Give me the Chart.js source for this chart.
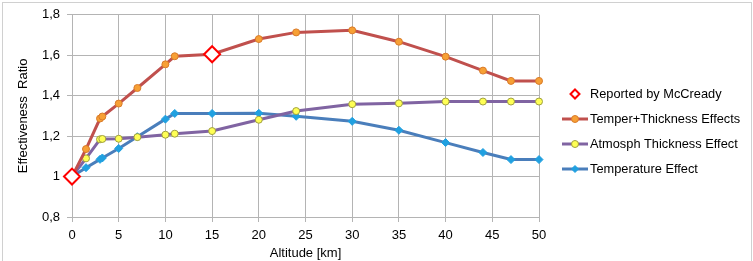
<!DOCTYPE html>
<html>
<head>
<meta charset="utf-8">
<script src="https://cdn.jsdelivr.net/npm/chart.js@4/dist/chart.umd.min.js"></script>
<style>
  html, body { margin: 0; padding: 0; background: #fff; }
  #wrap { width: 753px; height: 261px; position: relative; }
</style>
</head>
<body>
<div id="wrap"><canvas id="effChart"></canvas></div>
<script>
// data
const mcAlt = [0, 15];
const mcRatio = [1.0, 1.605];

const ttAlt = [0, 1.5, 3, 3.25, 5, 7, 10, 11, 15, 20, 24, 30, 35, 40, 44, 47, 50];
const ttRatio = [1.0, 1.136, 1.287, 1.297, 1.361, 1.438, 1.555, 1.595, 1.605, 1.68, 1.713, 1.723, 1.667, 1.593, 1.524, 1.473, 1.473];

const atAlt = [0, 1.5, 3, 3.25, 5, 7, 10, 11, 15, 20, 24, 30, 35, 40, 44, 47, 50];
const atRatio = [1.0, 1.09, 1.184, 1.186, 1.187, 1.195, 1.207, 1.212, 1.225, 1.281, 1.324, 1.358, 1.362, 1.371, 1.371, 1.371, 1.371];

const teAlt = [0, 1.5, 3, 3.25, 5, 7, 10, 11, 15, 20, 24, 30, 35, 40, 44, 47, 50];
const teRatio = [1.0, 1.044, 1.085, 1.092, 1.139, 1.197, 1.284, 1.312, 1.312, 1.313, 1.298, 1.273, 1.229, 1.168, 1.119, 1.084, 1.084];

const seriesNames = ["Reported by McCready", "Temper+Thickness Effects", "Atmosph Thickness Effect", "Temperature Effect"];

function pts(xs, ys) {
    return xs.map((x, i) => ({ x: x, y: ys[i] }));
}

const FONT = "'Liberation Sans', Arial, sans-serif";

/// legend drawn at the right, line + marker like the original
const sideLegend = {
    id: 'sideLegend',
    afterDraw(chart) {
        const ctx = chart.ctx;
        const rows = [94, 119, 144, 169];
        ctx.save();
        chart.data.datasets.forEach((ds, i) => {
            const y = rows[i];
            if (ds.showLine !== false) {
                ctx.strokeStyle = ds.borderColor;
                ctx.lineWidth = 3;
                ctx.beginPath();
                ctx.moveTo(562, y);
                ctx.lineTo(588, y);
                ctx.stroke();
            }
            ctx.fillStyle = ds.pointBackgroundColor;
            ctx.strokeStyle = ds.pointBorderColor;
            ctx.lineWidth = ds.pointBorderWidth;
            const r = i === 0 ? 4.5 : 3.5;
            ctx.beginPath();
            if (ds.pointStyle === 'rectRot') {
                ctx.moveTo(575, y - r); ctx.lineTo(575 + r, y);
                ctx.lineTo(575, y + r); ctx.lineTo(575 - r, y);
                ctx.closePath();
            } else {
                ctx.arc(575, y, r, 0, Math.PI * 2);
            }
            ctx.fill();
            ctx.stroke();
            ctx.fillStyle = '#000';
            ctx.font = "12.8px " + FONT;
            ctx.textBaseline = 'middle';
            ctx.fillText(ds.label, 590, y);
        });
        ctx.restore();
    }
};

/// outer frame
const frame = {
    id: 'frame',
    afterDraw(chart) {
        const ctx = chart.ctx;
        ctx.save();
        ctx.strokeStyle = '#d0d0d0';
        ctx.lineWidth = 1;
        ctx.strokeRect(2.5, 2.5, 749, 280);
        ctx.restore();
    }
};

new Chart("effChart", {
    type: "line",
    data: {
        datasets: [
            {
                label: seriesNames[0],
                data: pts(mcAlt, mcRatio),
                showLine: false,
                clip: false,
                pointStyle: 'rectRot',
                pointRadius: 8,
                pointBackgroundColor: '#ffffff',
                pointBorderColor: '#ff0000',
                pointBorderWidth: 2,
                borderColor: '#ff0000'
            },
            {
                label: seriesNames[1],
                data: pts(ttAlt, ttRatio),
                clip: false,
                borderColor: '#C0504D',
                borderWidth: 3,
                pointStyle: 'circle',
                pointRadius: 3.5,
                pointBackgroundColor: '#F7A035',
                pointBorderColor: '#D97B2A',
                pointBorderWidth: 1
            },
            {
                label: seriesNames[2],
                data: pts(atAlt, atRatio),
                clip: false,
                borderColor: '#8064A2',
                borderWidth: 3,
                pointStyle: 'circle',
                pointRadius: 3.5,
                pointBackgroundColor: '#FFFF55',
                pointBorderColor: '#A0A040',
                pointBorderWidth: 1
            },
            {
                label: seriesNames[3],
                data: pts(teAlt, teRatio),
                clip: false,
                borderColor: '#4A7EBB',
                borderWidth: 3,
                pointStyle: 'rectRot',
                pointRadius: 4,
                pointBackgroundColor: '#20A0E0',
                pointBorderColor: '#20A0E0',
                pointBorderWidth: 1
            }
        ]
    },
    options: {
        responsive: true,
        maintainAspectRatio: false,
        animation: false,
        layout: { padding: { top: 14, right: 214, bottom: 0, left: 0 } },
        elements: { line: { tension: 0 } },
        plugins: {
            legend: { display: false },
            tooltip: { enabled: false }
        },
        scales: {
            x: {
                type: 'linear',
                min: 0,
                max: 50,
                ticks: { stepSize: 5, color: '#000', padding: 6, maxRotation: 0, font: { family: FONT, size: 13 } },
                grid: { color: '#b4b4b4', tickLength: 5 },
                border: { color: '#b4b4b4' },
                title: { display: true, text: 'Altitude [km]', color: '#000', font: { family: FONT, size: 13 }, padding: { top: 0, bottom: 0 } },
                afterFit(scale) { scale.height = 44; }
            },
            y: {
                min: 0.8,
                max: 1.8,
                ticks: {
                    stepSize: 0.2,
                    color: '#000',
                    padding: 7,
                    font: { family: FONT, size: 13 },
                    callback: v => String(+v.toFixed(1)).replace('.', ',')
                },
                grid: { color: '#b4b4b4', tickLength: 5 },
                border: { color: '#b4b4b4' },
                title: { display: true, text: 'Effectiveness  Ratio', color: '#000', font: { family: FONT, size: 13 }, padding: { top: 16, bottom: 0 } },
                afterFit(scale) { scale.width = 72; }
            }
        }
    },
    plugins: [sideLegend, frame]
});
</script>
</body>
</html>
